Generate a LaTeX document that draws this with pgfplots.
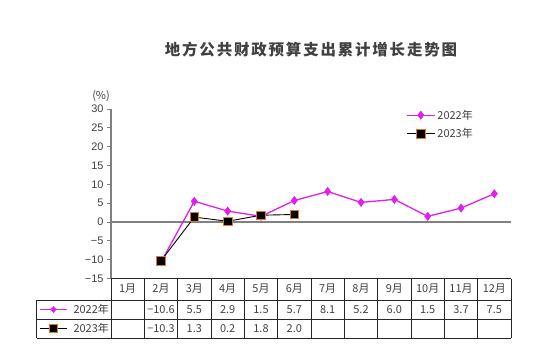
\documentclass[border=0pt]{standalone}
\usepackage{pgfplots}
\pgfplotsset{compat=1.18}
\usetikzlibrary{shapes.geometric}
\usepackage{fontspec}
\setmainfont{Liberation Sans}
\newfontfamily\cjk{Noto Sans CJK SC}
\newfontfamily\cjkt[LetterSpace=12]{Noto Sans CJK SC}
\definecolor{mag}{HTML}{E020E8}
\definecolor{org}{HTML}{E07830}
\definecolor{txt}{HTML}{404040}
\definecolor{axg}{HTML}{808080}
\begin{document}
\begin{tikzpicture}[x=1bp,y=1bp]
\path[use as bounding box] (0,0) rectangle (547,363);
\node[font=\cjkt\fontsize{15.5}{17}\selectfont\bfseries, text=txt] at (311,313) {地方公共财政预算支出累计增长走势图};
\node[font=\cjk\fontsize{11}{12}\selectfont, text=txt] at (101,267) {(\%)};
\begin{axis}[
  at={(111bp,84.5bp)}, anchor=south west, scale only axis,
  width=400bp, height=169.5bp,
  xmin=-0.5, xmax=11.5, ymin=-15, ymax=30,
  axis x line=none, axis y line*=left,
  y axis line style={axg, line width=1.2bp, -},
  ytick={-15,-10,...,30},
  yticklabels={−15,−10,−5,0,5,10,15,20,25,30},
  tick align=outside, major tick length=4bp,
  ytick style={axg, line width=1bp},
  tick label style={font=\fontsize{11}{12}\selectfont, text=txt},
  clip=false,
  legend style={at={(0.73,1.02)}, anchor=north west, draw=none, fill=none,
    font=\cjk\fontsize{11}{13}\selectfont, text=txt, row sep=4bp},
  legend cell align=left,
  legend image code/.code={\draw[mark repeat=2,mark phase=2,#1] plot coordinates {(0bp,0bp) (14bp,0bp) (28bp,0bp)};},
]
\draw[axg, line width=1.2bp] (axis cs:-0.5,0) -- (axis cs:11.5,0);
\addplot[mag, line width=1.3bp, mark=diamond*, mark size=3.5bp, mark options={fill=mag, draw=mag}]
  coordinates {(1,-10.6)(2,5.5)(3,2.9)(4,1.5)(5,5.7)(6,8.1)(7,5.2)(8,6.0)(9,1.5)(10,3.7)(11,7.5)};
\addlegendentry{2022年}
\addplot[black, line width=0.9bp, mark=square*, mark size=4.3bp, mark options={fill=black, draw=org, line width=0.8bp}]
  coordinates {(1,-10.3)(2,1.3)(3,0.2)(4,1.8)(5,2.0)};
\addlegendentry{2023年}
\end{axis}
% data table
\begin{scope}[line width=0.9bp, draw=black!85]
\draw (111,84.5) -- (511,84.5);
\draw (36.6,63) -- (511,63);
\draw (36.6,44) -- (511,44);
\draw (36.6,25) -- (511,25);
\draw (36.6,63) -- (36.6,25);
\foreach \k in {0,...,12} \draw (111+33.3333*\k,84.5) -- (111+33.3333*\k,25);
\end{scope}
\begin{scope}[every node/.style={font=\cjk\fontsize{11}{12}\selectfont, text=txt}]
\foreach \i in {1,...,12} \node at (111+33.3333*\i-16.667,74) {\i{}月};
\foreach \v [count=\i from 2] in {−10.6,5.5,2.9,1.5,5.7,8.1,5.2,6.0,1.5,3.7,7.5}
  \node at (111+33.3333*\i-16.667,53.5) {\v};
\foreach \v [count=\i from 2] in {−10.3,1.3,0.2,1.8,2.0}
  \node at (111+33.3333*\i-16.667,34.5) {\v};
\node[anchor=west] at (70,53.5) {2022年};
\node[anchor=west] at (70,34.5) {2023年};
\end{scope}
\draw[mag, line width=1.3bp] (40,53.5) -- (67,53.5);
\node[diamond, fill=mag, inner sep=0pt, minimum width=6bp, minimum height=7bp] at (53.5,53.5) {};
\draw[black, line width=0.9bp] (40,34.5) -- (67,34.5);
\node[rectangle, fill=black, draw=org, line width=0.8bp, inner sep=0pt, minimum size=8bp] at (53.5,34.5) {};
\end{tikzpicture}
\end{document}
